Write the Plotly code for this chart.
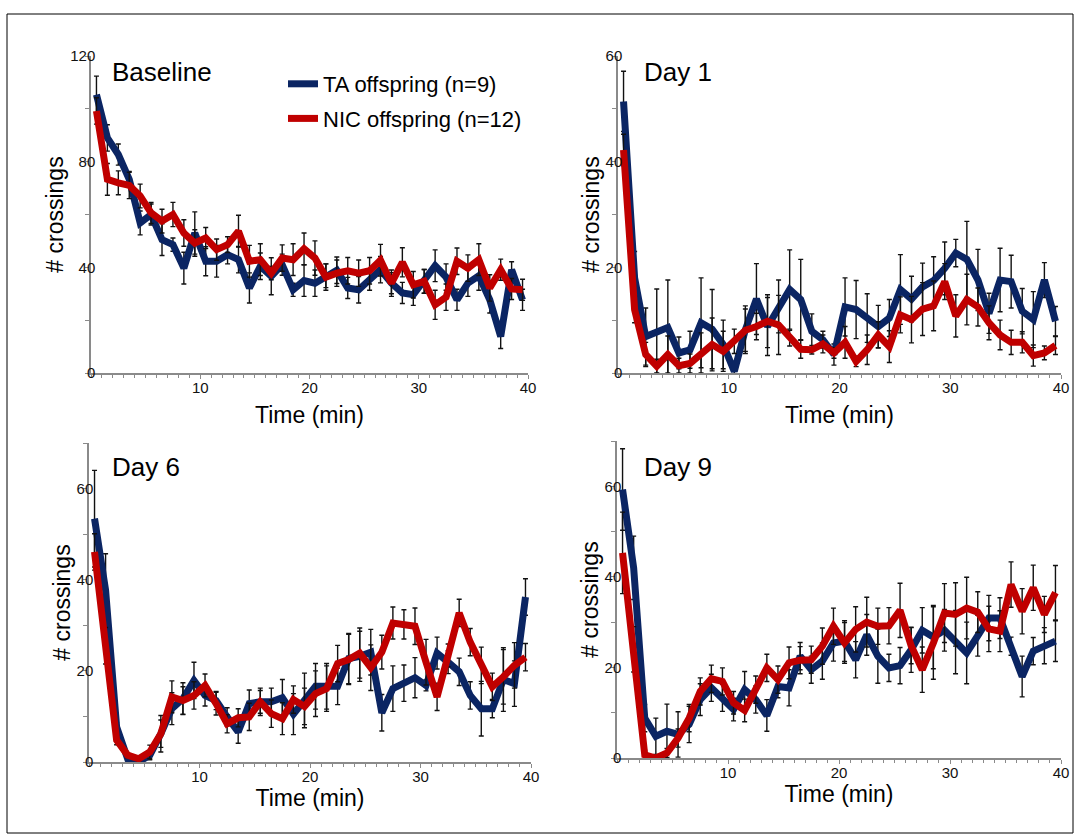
import plotly.graph_objects as go

# ---------------- data ----------------
minutes = list(range(1, 41))            # 1-min bins
time_mid = [m - 0.5 for m in minutes]   # bin centres on the time axis

panel_names = ["Baseline", "Day 1", "Day 6", "Day 9"]
series_names = ["TA offspring (n=9)", "NIC offspring (n=12)"]

base_ta = [105.4, 89, 82.7, 73.3, 56.8, 60, 50.5, 48.6, 39.7, 53, 42.3, 42.3, 44.8, 42.9, 32.2, 40.4,
           36.6, 41, 31.5, 35, 34, 36.8, 38.9, 32.2, 31.5, 35.3, 39.1, 34, 30.3, 29.6, 34.7, 40.6,
           36.3, 27.7, 34, 36.8, 27.7, 13.8, 39.1, 27.7]
base_nic = [99.2, 73.3, 72, 71, 67, 60.6, 57.5, 60, 53, 49.2, 51.1, 46.7, 48.6, 53.7, 42.3, 42.9,
            37.8, 43.5, 42.9, 47, 43.5, 36.3, 37.8, 38.7, 37.8, 38.7, 42.7, 34, 41.9, 33.4, 34.7,
            25.8, 28.7, 42.3, 39.7, 42.9, 32.2, 39.1, 31.8, 31.5]
base_ta_err = [7, 5, 4, 3, 4.5, 4, 6, 2.5, 6, 8, 5.5, 6, 3.5, 5, 5.7, 5, 7, 4, 2.5, 6, 5, 4.5, 5, 4,
               5, 4, 5, 4, 4, 4, 4.5, 6, 5, 4, 5, 5.5, 5, 4.5, 3, 4]
base_nic_err = [5, 6, 4.5, 5, 4.5, 4, 4.5, 4.6, 5, 5, 4, 4, 3, 6, 6, 6, 2.5, 5, 6, 6, 6.5, 5, 5, 5,
                5, 5, 6, 5, 5.5, 5, 4.5, 5.5, 5, 5, 5, 6, 5, 4, 4, 4]

d1_ta = [51.4, 18, 6.9, 7.9, 8.6, 3.8, 4.4, 9.5, 8.3, 5.4, 0.3, 8.2, 14, 8.8, 12.6, 15.8, 13.9, 7.9,
         6.3, 3.5, 12.5, 12, 10.4, 8.8, 10.4, 15.8, 14, 16.3, 17.5, 19.8, 22.7, 21.5, 17.6, 11.3,
         17.6, 17.3, 11.7, 10.1, 17.6, 9.8]
d1_nic = [42.2, 12, 3.5, 1.3, 3.5, 1.4, 1.8, 3.8, 5.4, 4.1, 6, 8.1, 8.8, 9.8, 9.1, 6.6, 4.5, 4.4,
          5.5, 3.8, 5.8, 2.2, 4.4, 7.2, 5, 11, 10.1, 12.1, 12.7, 17.3, 10.8, 13.9, 12.5, 9.5, 7.2,
          5.8, 5.8, 3.3, 3.8, 5.2]
d1_ta_err = [5.7, 5, 5.4, 8, 9, 3, 3.5, 8.5, 7.5, 4.6, 0.5, 4.5, 6.7, 5.5, 5, 7.5, 7.6, 3.3, 1.6, 2,
             5.5, 5.5, 4.6, 4, 3.5, 6.6, 4.3, 4.5, 4.5, 5, 2.6, 7.2, 5.8, 3.8, 6, 5, 4.3, 5.3, 3.3, 2.8]
d1_nic_err = [3, 2.5, 2.3, 1.3, 3.5, 1.4, 1.8, 3.8, 5, 3.8, 2.3, 4, 2.5, 5, 5.6, 1.5, 1.7, 0.8, 1.7, 1,
              3, 1, 2.8, 2.5, 3, 3.4, 4.4, 5, 4.7, 3.4, 4, 4.8, 3.6, 3.2, 2.8, 2.3, 2, 2, 1.3, 1.7]

d6_ta = [53.4, 37.7, 7.7, 0.7, 0, 1.5, 6.2, 11.7, 13.9, 17.9, 14.6, 13.5, 9.9, 6.6, 12.8, 13.2, 13.2,
         14.1, 10.5, 13.5, 16.6, 16.6, 16.6, 22.7, 23.2, 24.1, 10.8, 16.1, 17.3, 18.5, 16.8, 23.9,
         21.9, 19.8, 14.6, 11.7, 11.7, 18.1, 17.2, 36.2]
d6_nic = [46.1, 25.5, 4.8, 1.5, 0.7, 2.2, 6.2, 14.3, 13.5, 14.6, 16.8, 12.8, 8.4, 9.7, 9.9, 13.2,
          10.6, 9.5, 13.7, 12.2, 15, 16.1, 21.6, 22.5, 23.9, 20.7, 24.1, 30.5, 30.2, 29.8, 21.9,
          14.3, 23.4, 32.7, 26.3, 21.2, 16.5, 18.7, 21.2, 23]
d6_ta_err = [10.6, 8, 1, 0.5, 0.5, 1, 4, 3.5, 3.5, 4, 2.3, 2, 2, 2.5, 3, 3, 3, 4, 4.5, 6, 5, 5, 4,
             5.5, 5.5, 5, 4, 5, 4, 4.4, 1.2, 3.5, 2.5, 3, 3, 6, 2, 7, 5, 4]
d6_nic_err = [4, 4, 1, 0.5, 0.5, 1.5, 3, 3.5, 3, 3, 2.5, 2.5, 2, 2, 3, 2.5, 3, 3.5, 3, 4, 5, 5, 4,
              5.5, 5.5, 5, 3.7, 3.5, 3.2, 4, 5, 3, 2.5, 3, 3, 4, 3, 6, 5, 3]

d9_ta = [59.3, 42, 8.8, 4.8, 5.9, 5.2, 7.4, 12.9, 15.5, 13.3, 10.7, 15.1, 12.9, 9.4, 15.8, 15.5, 22.5,
         19.5, 21.4, 25.4, 25.8, 21.7, 27.2, 22.5, 19.9, 20.4, 23.9, 28.2, 26.7, 28.2, 25.6, 23.2,
         27, 30.9, 30.9, 24.7, 18, 23.6, 24.8, 25.8]
d9_nic = [45.3, 24, 0.7, 0, 1.1, 4.4, 8.8, 14.7, 17.5, 16.9, 12.2, 10.5, 15.1, 19.9, 17.3, 21, 21.6,
          21.7, 24.7, 29.1, 25.4, 28.4, 30, 29.1, 29.2, 32.6, 24.8, 19.5, 25.4, 32, 31.7, 33.1, 32.2,
          28.5, 28, 38.3, 32.4, 37.6, 31.7, 36.5]
d9_ta_err = [9, 7, 3, 4, 6, 5, 4, 3.5, 3, 3, 2.5, 4, 3, 3.5, 2.5, 4, 3, 3, 4, 4, 4.5, 4, 4.5, 6, 3,
             4, 5, 5, 7, 4.6, 7, 6.8, 4.5, 5, 4.5, 2, 4.5, 3, 4, 4.5]
d9_nic_err = [9, 5, 1, 0.5, 1, 2, 3, 3, 3, 3, 2.5, 2.5, 3, 3, 3, 3.5, 3, 3, 4, 4, 4.5, 5, 5.5, 4, 4,
              6, 4, 5, 8, 6.5, 7, 6.8, 4.5, 5, 4.5, 5, 5, 5, 4, 6]

ta_series = [base_ta, d1_ta, d6_ta, d9_ta]
nic_series = [base_nic, d1_nic, d6_nic, d9_nic]
ta_errs = [base_ta_err, d1_ta_err, d6_ta_err, d9_ta_err]
nic_errs = [base_nic_err, d1_nic_err, d6_nic_err, d9_nic_err]

y_ranges = [[0, 120], [0, 60], [0, 70], [0, 70]]
y_dticks = [40, 20, 20, 20]
y_minor = [20, 10, 10, 10]

# ---------------- styling / layout ----------------
W, H = 1081, 837
NAVY = "#0b2563"
RED = "#c00000"
AXIS_GREY = "#8a8a8a"
FONT = "Liberation Sans, Arial, sans-serif"

# panel boxes in pixels: (x0, x1, y_bottom, y_top)
boxes = [(91, 528, 373, 56), (618, 1061, 373, 56),
         (89, 531, 762, 443), (617, 1061, 758, 441)]
title_pos = [(110, 72), (642, 72), (110, 467), (642, 467)]
xtitle_standoff = [12, 12, 0, 2]

fig = go.Figure()

for i in range(4):
    ax = "" if i == 0 else str(i + 1)
    for vals, errs, name, color in [(ta_series[i], ta_errs[i], series_names[0], NAVY),
                                    (nic_series[i], nic_errs[i], series_names[1], RED)]:
        fig.add_trace(go.Scatter(
            x=time_mid, y=vals, mode="lines", name=name,
            line=dict(color=color, width=7),
            error_y=dict(type="data", array=errs, visible=True, color="#111111",
                         thickness=1.4, width=2.5),
            xaxis="x" + ax, yaxis="y" + ax,
            showlegend=(i == 0), legendgroup=name,
        ))

    x0, x1, yb, yt = boxes[i]
    common = dict(showgrid=False, zeroline=False, showline=True, linecolor=AXIS_GREY,
                  linewidth=1.5, ticks="outside", ticklen=4, tickcolor=AXIS_GREY, tickwidth=1,
                  tickfont=dict(size=15, color="#111111", family=FONT), automargin=False)
    fig.layout["xaxis" + ax] = dict(
        common, domain=[x0 / W, x1 / W], range=[0, 40], anchor="y" + ax,
        tickvals=[10, 20, 30, 40], ticklabelstandoff=-4,
        minor=dict(dtick=1, ticks="outside", ticklen=3, tickcolor=AXIS_GREY, tickwidth=1),
        title=dict(text="Time (min)", font=dict(size=23, color="black", family=FONT),
                   standoff=xtitle_standoff[i]),
    )
    fig.layout["yaxis" + ax] = dict(
        common, domain=[1 - yb / H, 1 - yt / H], range=y_ranges[i], anchor="x" + ax,
        dtick=y_dticks[i], tick0=0, ticklabelstandoff=-13,
        minor=dict(dtick=y_minor[i], ticks="outside", ticklen=4, tickcolor=AXIS_GREY, tickwidth=1),
        title=dict(text="# crossings", font=dict(size=23, color="black", family=FONT), standoff=0),
    )
    tx, ty = title_pos[i]
    fig.add_annotation(text=panel_names[i], x=tx / W, y=1 - ty / H, xref="paper", yref="paper",
                       xanchor="left", yanchor="middle", showarrow=False,
                       font=dict(size=26, color="black", family=FONT))

# figure border
fig.add_shape(type="rect", xref="paper", yref="paper", x0=7 / W, x1=1073 / W,
              y0=1 - 833 / H, y1=1 - 14 / H, line=dict(color="black", width=1))

fig.update_layout(
    width=W, height=H, margin=dict(l=0, r=0, t=0, b=0),
    paper_bgcolor="white", plot_bgcolor="white",
    font=dict(family=FONT, color="black"),
    showlegend=True,
    legend=dict(x=283 / W, y=1 - 63 / H, xanchor="left", yanchor="top",
                bgcolor="rgba(0,0,0,0)", font=dict(size=22, family=FONT, color="black"),
                tracegroupgap=3, itemwidth=30),
)

fig.write_html("out.html", config={"displayModeBar": False},
               post_script="document.body.style.margin='0';")
